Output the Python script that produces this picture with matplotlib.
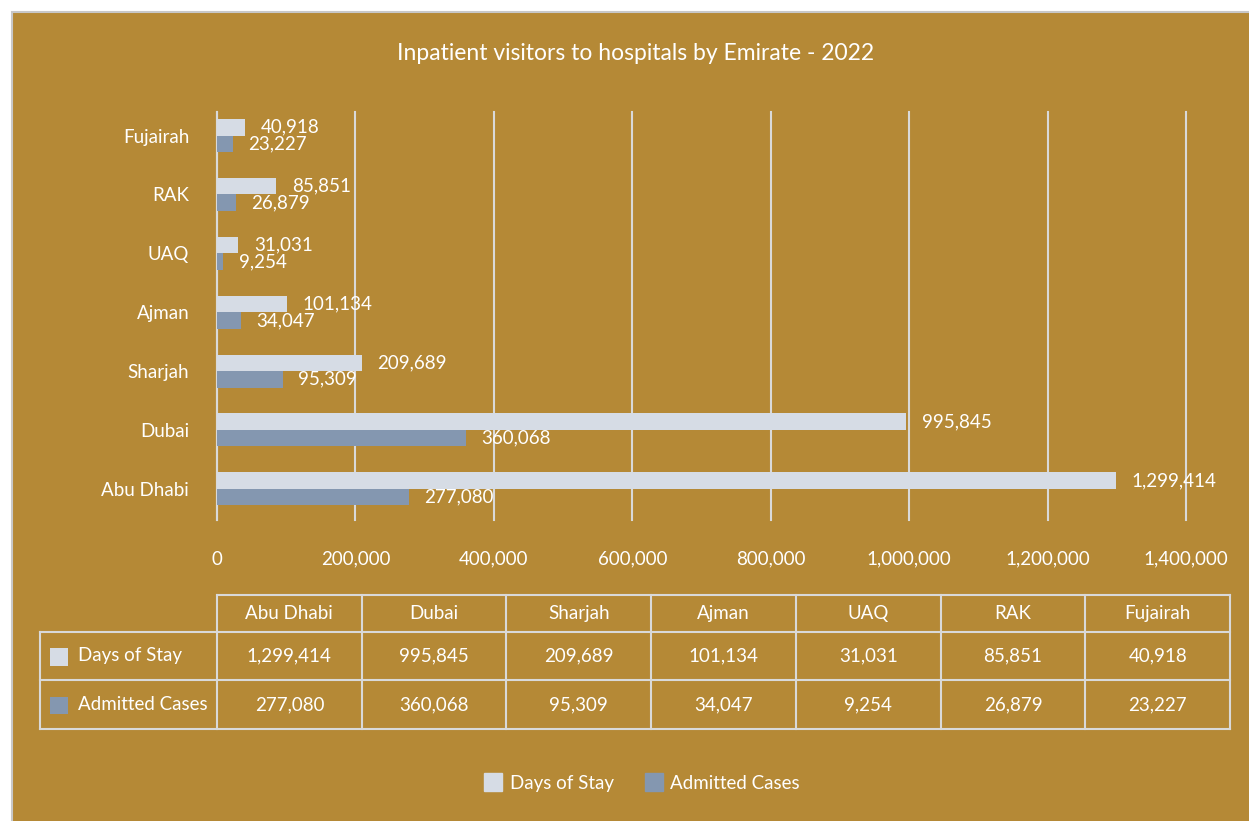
import matplotlib.pyplot as plt
from matplotlib.patches import Rectangle
from matplotlib.lines import Line2D

emirates = ["Abu Dhabi", "Dubai", "Sharjah", "Ajman", "UAQ", "RAK", "Fujairah"]
days_of_stay = [1299414, 995845, 209689, 101134, 31031, 85851, 40918]
admitted_cases = [277080, 360068, 95309, 34047, 9254, 26879, 23227]
series_names = ["Days of Stay", "Admitted Cases"]
x_ticks = [0, 200000, 400000, 600000, 800000, 1000000, 1200000, 1400000]

GOLD = "#B58936"
LIGHT = "#D6DCE5"
DARK = "#8497B0"
GRID = "#D9D9D9"
TXT = "#FFFFFF"

plt.rcParams["font.family"] = ["Lato", "DejaVu Sans"]

W, H = 1249, 821
fig = plt.figure(figsize=(W / 100, H / 100), dpi=100)
fig.patch.set_facecolor("white")


def box(x0, y0, x1, y1):
    # pixel box (top-left origin) -> figure fraction rect
    return [x0 / W, 1 - y1 / H, (x1 - x0) / W, (y1 - y0) / H]


# gold chart area with grey border
fig.patches.append(Rectangle((12 / W, -0.01), 1, 1.01 - 12 / H, transform=fig.transFigure,
                             facecolor=GOLD, edgecolor="#C8C8C8", lw=1.5, zorder=-10))

fig.text(636 / W, 1 - 54 / H, "Inpatient visitors to hospitals by Emirate - 2022",
         ha="center", va="center", color=TXT, fontsize=16.5)

# ---- bar chart ----
ax = fig.add_axes(box(217, 112, 1186, 520))
ax.set_facecolor("none")
ypos = list(range(len(emirates)))
h = 0.28
ax.barh([y + h / 2 for y in ypos], days_of_stay, height=h, color=LIGHT, zorder=3)
ax.barh([y - h / 2 for y in ypos], admitted_cases, height=h, color=DARK, zorder=3)
for y, v in zip(ypos, days_of_stay):
    ax.annotate(f"{v:,}", (v, y + h / 2), xytext=(11, 0), textcoords="offset points",
                va="center", ha="left", color=TXT, fontsize=13.5, zorder=4)
for y, v in zip(ypos, admitted_cases):
    ax.annotate(f"{v:,}", (v, y - h / 2), xytext=(11, 0), textcoords="offset points",
                va="center", ha="left", color=TXT, fontsize=13.5, zorder=4)

ax.set_xlim(0, 1400000)
ax.set_ylim(-0.53, 6.4)
ax.set_xticks(x_ticks)
ax.set_xticklabels([f"{t:,}" for t in x_ticks])
ax.set_yticks(ypos)
ax.set_yticklabels(emirates)
ax.tick_params(axis="both", length=0, colors=TXT, labelsize=13.5)
ax.tick_params(axis="x", pad=22)
ax.tick_params(axis="y", pad=20)
ax.grid(axis="x", color=GRID, lw=1.5, zorder=1)
for gl in ax.get_xgridlines():
    gl.set_clip_on(False)
for s in ["top", "right", "bottom"]:
    ax.spines[s].set_visible(False)
ax.spines["left"].set_color(GRID)
ax.spines["left"].set_linewidth(1.5)

# ---- data table ----
tab = fig.add_axes(box(40, 595, 1230, 729))
tab.set_axis_off()
ncol = len(emirates)
left = -177 / 144.7
tab.set_xlim(left, ncol)
row_edges = [0, 1, 2, 2.75]
tab.set_ylim(0, row_edges[-1])
lk = dict(color=GRID, lw=1.5, clip_on=False, solid_capstyle="projecting")
# horizontal lines
tab.plot([0, ncol], [row_edges[3]] * 2, **lk)
for r in row_edges[:3]:
    tab.plot([left, ncol], [r, r], **lk)
# vertical lines
tab.plot([left, left], [0, row_edges[2]], **lk)
for c in range(ncol + 1):
    tab.plot([c, c], [0, row_edges[3]], **lk)
for c, name in enumerate(emirates):
    tab.text(c + 0.5, (row_edges[2] + row_edges[3]) / 2, name, ha="center", va="center",
             color=TXT, fontsize=13.5)
    tab.text(c + 0.5, 1.5, f"{days_of_stay[c]:,}", ha="center", va="center",
             color=TXT, fontsize=13.5)
    tab.text(c + 0.5, 0.5, f"{admitted_cases[c]:,}", ha="center", va="center",
             color=TXT, fontsize=13.5)
for yc, name, col in [(1.5, series_names[0], LIGHT), (0.5, series_names[1], DARK)]:
    tab.add_patch(Rectangle((left + 0.07, yc - 0.2), 0.125, 0.36, facecolor=col,
                            edgecolor="none", clip_on=False))
    tab.text(left + 0.26, yc, name, ha="left", va="center", color=TXT, fontsize=13.5)

# ---- legend ----
handles = [Line2D([], [], marker="s", ls="none", markersize=13, color=LIGHT),
           Line2D([], [], marker="s", ls="none", markersize=13, color=DARK)]
fig.legend(handles, series_names, loc="center", bbox_to_anchor=(642 / W, 1 - 783 / H),
           ncol=2, frameon=False, fontsize=13.5, labelcolor=TXT, handletextpad=0.4,
           columnspacing=1.6, handlelength=1.0)

fig.savefig("out.png", dpi=100, facecolor=fig.get_facecolor())
